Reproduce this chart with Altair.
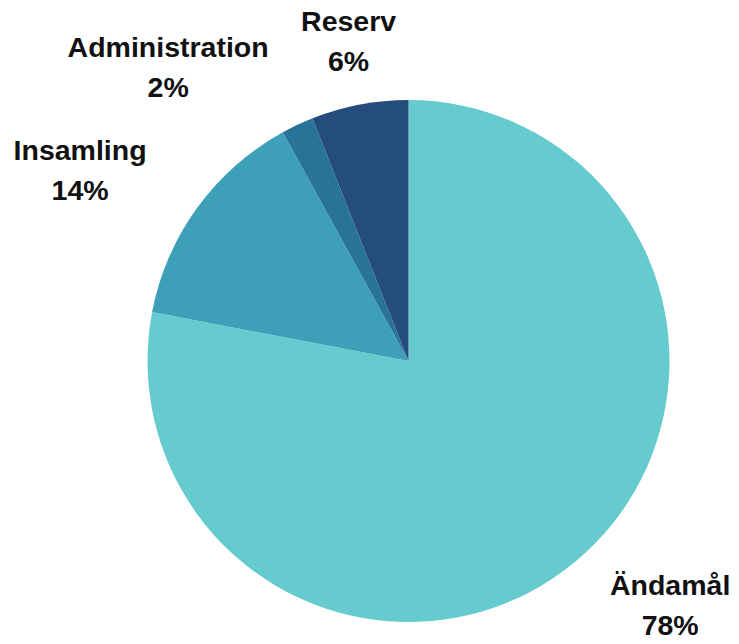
import altair as alt
import pandas as pd

# Data
categories = ["Ändamål", "Insamling", "Administration", "Reserv"]
values = [78, 14, 2, 6]
colors = ["#66CBCF", "#3E9FB8", "#287499", "#244C7C"]

df = pd.DataFrame({
    "cat": categories,
    "value": values,
    "order": list(range(len(categories))),
})
df["label"] = [f"{c}\n{v}%" for c, v in zip(categories, values)]

# Layout / style
W, H = 723, 628
CX, CY = 400.5, 353
R = 261
label_style = {
    "Ändamål": dict(radius=365, dx=29, dy=-56),
    "Insamling": dict(radius=380, dx=-21, dy=13),
    "Administration": dict(radius=379, dx=-79, dy=30),
    "Reserv": dict(radius=325, dx=1, dy=-20),
}

base = alt.Chart(df).encode(
    theta=alt.Theta("value:Q", stack=True),
    order=alt.Order("order:Q"),
    detail="cat:N",
)

arcs = base.mark_arc(outerRadius=R, x=CX, y=CY, stroke=None).encode(
    color=alt.Color("cat:N", scale=alt.Scale(domain=categories, range=colors), legend=None)
)

layers = [arcs]
for cat, st in label_style.items():
    t = base.transform_calculate(
        t=f"datum.cat == '{cat}' ? datum.label : ''"
    ).mark_text(
        x=CX, y=CY,
        radius=st["radius"], dx=st["dx"], dy=st["dy"],
        font="Liberation Sans", fontSize=28.5, fontWeight="bold",
        lineBreak="\n", lineHeight=40, align="center", baseline="middle",
        color="#111111",
    ).encode(text="t:N")
    layers.append(t)

chart = alt.layer(*layers).properties(
    width=W, height=H, padding=0, autosize=alt.AutoSizeParams(type="none")
).configure_view(stroke=None)

chart.save("out.html", embed_options={"renderer": "svg", "actions": False})
